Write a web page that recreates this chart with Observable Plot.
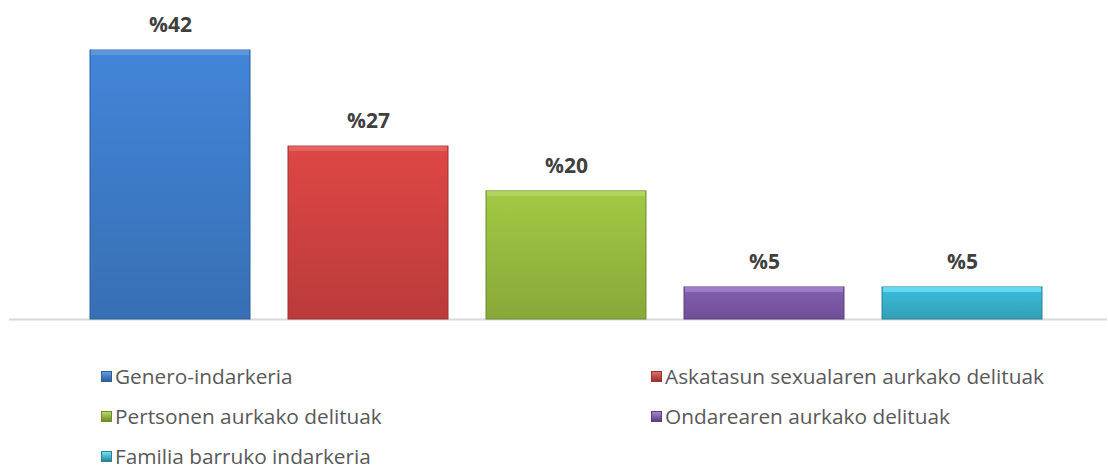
<!DOCTYPE html>
<html>
<head>
<meta charset="utf-8">
<script src="https://cdn.jsdelivr.net/npm/d3@7"></script>
<script src="https://cdn.jsdelivr.net/npm/@observablehq/plot@0.6"></script>
<style>
  html, body { margin: 0; padding: 0; background: #fff; }
  #wrap { position: relative; width: 1108px; height: 470px; overflow: hidden; font-family: "Open Sans", sans-serif; }
  #legend { position: absolute; left: 0; top: 340px; width: 1108px; height: 130px; }
  .item { position: absolute; display: flex; align-items: center; font-size: 20.8px; color: #595959; white-space: nowrap; }
  .sw { width: 11px; height: 11px; margin-right: 3px; box-sizing: border-box; }
</style>
</head>
<body>
<div id="wrap"><div id="chart"></div><div id="legend"></div></div>
<script>
const categories = ["Genero-indarkeria", "Askatasun sexualaren aurkako delituak", "Pertsonen aurkako delituak", "Ondarearen aurkako delituak", "Familia barruko indarkeria"];
const values = [42, 27, 20, 5, 5];
const labels = ["%42", "%27", "%20", "%5", "%5"];
const faceColors = ["#3d7cc9", "#cf4240", "#97bb3f", "#7b58a6", "#38b1cc"];
const lightColors = ["#5f9be0", "#e56a68", "#b7d866", "#a683d0", "#6fe0f5"];
const darkColors = ["#2f5e9c", "#9a3230", "#6f8c2c", "#5b4080", "#2a8499"];

const data = categories.map((c, i) => ({cat: c, value: values[i], label: labels[i], i}));

const chart = Plot.plot({
  width: 1108,
  height: 340,
  marginLeft: 9,
  marginRight: 1,
  marginTop: 0,
  marginBottom: 21,
  x: {domain: categories, range: [50, 1082], padding: 0.19, axis: null},
  y: {domain: [0, 42], range: [319, 50], axis: null},
  marks: [
    Plot.ruleY([0], {stroke: "#d9d9d9", strokeWidth: 2}),
    Plot.barY(data, {x: "cat", y: "value", fill: d => `url(#g${d.i})`, stroke: d => darkColors[d.i], strokeWidth: 1}),
    Plot.barY(data, {x: "cat", y1: "value", y2: "value", insetBottom: -5, insetLeft: 1, insetRight: 1, fill: d => lightColors[d.i], fillOpacity: 0.8}),
    Plot.text(data, {x: "cat", y: "value", text: "label", dy: -25, fontSize: 21, fontWeight: "bold", fill: "#404040", fontFamily: "'Open Sans', sans-serif"})
  ]
});

const svg = d3.select(chart);
const defs = svg.insert("defs", ":first-child");
faceColors.forEach((c, i) => {
  const g = defs.append("linearGradient").attr("id", "g" + i).attr("x1", 0).attr("y1", 0).attr("x2", 0).attr("y2", 1);
  g.append("stop").attr("offset", "0%").attr("stop-color", d3.color(c).brighter(0.2));
  g.append("stop").attr("offset", "100%").attr("stop-color", d3.color(c).darker(0.3));
});
document.getElementById("chart").appendChild(chart);

const legend = document.getElementById("legend");
const pos = [[101, 36], [651, 36], [101, 76], [651, 76], [101, 116]];
categories.forEach((c, i) => {
  const it = document.createElement("div");
  it.className = "item";
  it.style.left = pos[i][0] + "px";
  it.style.top = (pos[i][1] - 13) + "px";
  it.style.height = "26px";
  const sw = document.createElement("div");
  sw.className = "sw";
  sw.style.background = `linear-gradient(${lightColors[i]}, ${darkColors[i]})`;
  sw.style.border = `1px solid ${darkColors[i]}`;
  const tx = document.createElement("span");
  tx.textContent = c;
  it.appendChild(sw); it.appendChild(tx);
  legend.appendChild(it);
});
</script>
</body>
</html>
